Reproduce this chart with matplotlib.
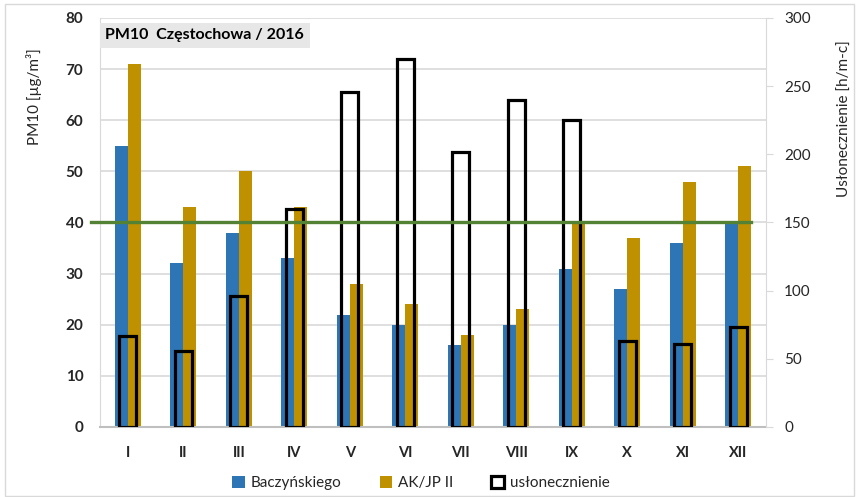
import numpy as np
import matplotlib.pyplot as plt
from matplotlib.patches import Patch

plt.rcParams['font.family'] = ['Lato', 'DejaVu Sans']

months = ['I', 'II', 'III', 'IV', 'V', 'VI', 'VII', 'VIII', 'IX', 'X', 'XI', 'XII']
baczynskiego = [55, 32, 38, 33, 22, 20, 16, 20, 31, 27, 36, 40]
akjp = [71, 43, 50, 43, 28, 24, 18, 23, 40, 37, 48, 51]
sunshine = [67, 56, 96, 160, 246, 270, 202, 240, 225, 63, 61, 73]
limit = 40

blue = '#2e75b6'
gold = '#bf9000'
green = '#548235'
txt = '#262626'
grid = '#d9d9d9'

fig = plt.figure(figsize=(8.59, 4.97), dpi=100)
ax = fig.add_axes([100/859, 1-427/497, 666/859, 409/497])
ax2 = ax.twinx()

x = np.arange(len(months))
w = 0.234
ax.bar(x - w/2, baczynskiego, w, color=blue, zorder=2, label='Baczyńskiego')
ax.bar(x + w/2, akjp, w, color=gold, zorder=2, label='AK/JP II')

ax2.bar(x, sunshine, 0.31, facecolor='none', edgecolor='black', linewidth=2.3,
        zorder=3, label='usłonecznienie')
# norma 40 ug/m3
ax2.plot([-0.66, 11.23], [limit*300/80]*2, color=green, linewidth=2.4,
         clip_on=False, zorder=4)

ax.set_xlim(-0.5, 11.5)
ax.set_ylim(0, 80)
ax2.set_ylim(0, 300)
ax.set_yticks(range(0, 81, 10))
ax2.set_yticks(range(0, 301, 50))
ax.set_xticks(x)
ax.set_xticklabels(months)

ax.yaxis.grid(True, color=grid, linewidth=1.2, zorder=0)
ax.set_axisbelow(True)

for a in (ax, ax2):
    for s in a.spines.values():
        s.set_visible(False)
ax.spines['left'].set_visible(True)
ax.spines['left'].set_color(grid)
ax.spines['bottom'].set_visible(True)
ax.spines['bottom'].set_color('#bfbfbf')
ax.spines['bottom'].set_linewidth(1.5)
ax2.spines['right'].set_visible(True)
ax2.spines['right'].set_color(grid)

ax.tick_params(axis='y', length=0, pad=12, labelsize=11, labelcolor=txt)
ax.tick_params(axis='x', length=0, pad=14, labelsize=10.5, labelcolor=txt)
ax2.tick_params(axis='y', length=5, color=grid, pad=8, labelsize=11, labelcolor=txt)
for lab in ax.get_yticklabels() + ax.get_xticklabels():
    lab.set_fontweight('bold')

ax.set_ylabel('PM10 [µg/m³]', fontsize=11, color=txt)
ax.yaxis.set_label_coords(-0.087, 0.807)
ax2.set_ylabel('Usłonecznienie [h/m-c]', fontsize=11, color=txt)
ax2.yaxis.set_label_coords(1.108, 0.755)

ax.text(0.008, 0.975, 'PM10  Częstochowa / 2016', transform=ax.transAxes,
        ha='left', va='top', fontsize=11.5, fontweight='bold', color='black',
        bbox=dict(boxstyle='square,pad=0.35', facecolor='#e7e7e7', edgecolor='none'),
        zorder=5)

handles = [Patch(facecolor=blue, label='Baczyńskiego'),
           Patch(facecolor=gold, label='AK/JP II'),
           Patch(facecolor='none', edgecolor='black', linewidth=2.3, label='usłonecznienie')]
fig.legend(handles=handles, loc='center', bbox_to_anchor=(421/859, 1-483/497), ncol=3,
           frameon=False, fontsize=11, handlelength=0.8, handleheight=0.8,
           columnspacing=2.5, handletextpad=0.4, labelcolor=txt)

# ramka wykresu
fig.patches.append(plt.Rectangle((5/859, 0.002), 1-10/859, 1-5/497, transform=fig.transFigure,
                                 fill=False, edgecolor='#d9d9d9', linewidth=1))

fig.savefig('out.png', dpi=100)
